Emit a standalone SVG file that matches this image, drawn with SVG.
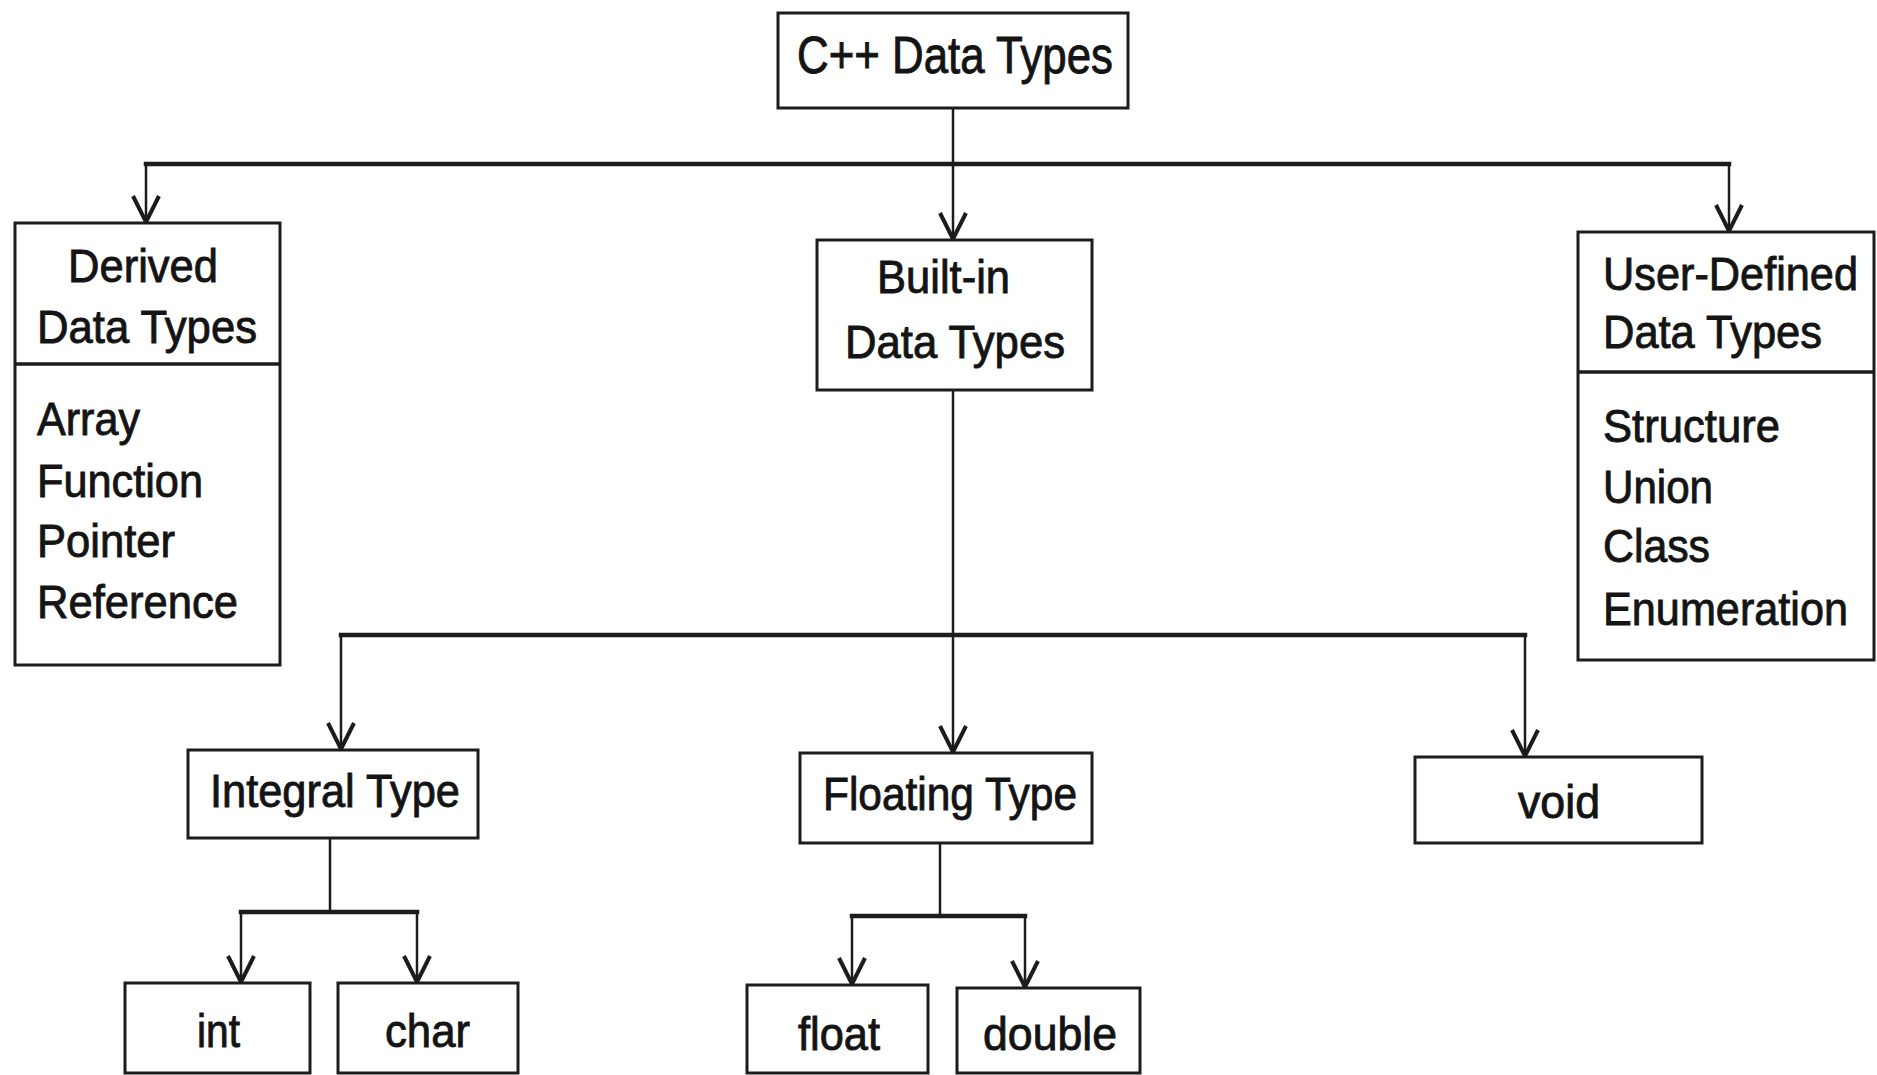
<svg xmlns="http://www.w3.org/2000/svg" width="1877" height="1075" viewBox="0 0 1877 1075">
<defs>
<style>
.box{fill:#fff;stroke:#1c1c1c;stroke-width:3}
.div{stroke:#1c1c1c;stroke-width:3.5}
.t{font-family:"Liberation Sans",Arial,sans-serif;font-size:47px;fill:#141414;stroke:#141414;stroke-width:0.9}
.v{fill:none;stroke:#1c1c1c;stroke-width:2.5}
.h{fill:none;stroke:#1c1c1c;stroke-width:4.5;stroke-linecap:square}
</style>
<marker id="arr" markerUnits="userSpaceOnUse" viewBox="-30 -16 34 32" refX="0" refY="0" markerWidth="34" markerHeight="32" orient="auto" overflow="visible">
<path d="M -26 -13 L 0 0 L -26 13" fill="none" stroke="#1c1c1c" stroke-width="4"/>
</marker>
</defs>
<rect width="1877" height="1075" fill="#fff"/>

<g id="connectors">
<path class="v" d="M 953 108 L 953 164"/>
<path class="h" d="M 146 164 L 1729 164"/>
<path class="v" d="M 146 164 L 146 222" marker-end="url(#arr)"/>
<path class="v" d="M 953 164 L 953 239" marker-end="url(#arr)"/>
<path class="v" d="M 1729 164 L 1729 231" marker-end="url(#arr)"/>
<path class="v" d="M 953 390 L 953 635"/>
<path class="h" d="M 341 635 L 1525 635"/>
<path class="v" d="M 341 635 L 341 749" marker-end="url(#arr)"/>
<path class="v" d="M 953 635 L 953 752" marker-end="url(#arr)"/>
<path class="v" d="M 1525 635 L 1525 756" marker-end="url(#arr)"/>
<path class="v" d="M 330 838 L 330 912"/>
<path class="h" d="M 241 912 L 417 912"/>
<path class="v" d="M 241 912 L 241 982" marker-end="url(#arr)"/>
<path class="v" d="M 417 912 L 417 982" marker-end="url(#arr)"/>
<path class="v" d="M 940 843 L 940 916"/>
<path class="h" d="M 852 916 L 1025 916"/>
<path class="v" d="M 852 916 L 852 984" marker-end="url(#arr)"/>
<path class="v" d="M 1025 916 L 1025 987" marker-end="url(#arr)"/>
</g>

<g id="node-cpp">
<rect class="box" x="778" y="13" width="350" height="95"/>
<text class="t" x="797" y="73" style="font-size:52px" textLength="316" lengthAdjust="spacingAndGlyphs">C++ Data Types</text>
</g>

<g id="node-derived">
<rect class="box" x="15" y="223" width="265" height="442"/>
<line class="div" x1="15" y1="364" x2="280" y2="364"/>
<text class="t" x="68" y="282" textLength="150" lengthAdjust="spacingAndGlyphs">Derived</text>
<text class="t" x="37" y="343" textLength="220" lengthAdjust="spacingAndGlyphs">Data Types</text>
<text class="t" x="37" y="435" textLength="103" lengthAdjust="spacingAndGlyphs">Array</text>
<text class="t" x="37" y="497" textLength="166" lengthAdjust="spacingAndGlyphs">Function</text>
<text class="t" x="37" y="557" textLength="138" lengthAdjust="spacingAndGlyphs">Pointer</text>
<text class="t" x="37" y="618" textLength="201" lengthAdjust="spacingAndGlyphs">Reference</text>
</g>

<g id="node-builtin">
<rect class="box" x="817" y="240" width="275" height="150"/>
<text class="t" x="877" y="293" textLength="133" lengthAdjust="spacingAndGlyphs">Built-in</text>
<text class="t" x="845" y="358" textLength="220" lengthAdjust="spacingAndGlyphs">Data Types</text>
</g>

<g id="node-userdefined">
<rect class="box" x="1578" y="232" width="296" height="428"/>
<line class="div" x1="1578" y1="372" x2="1874" y2="372"/>
<text class="t" x="1603" y="290" textLength="255" lengthAdjust="spacingAndGlyphs">User-Defined</text>
<text class="t" x="1603" y="348" textLength="219" lengthAdjust="spacingAndGlyphs">Data Types</text>
<text class="t" x="1603" y="442" textLength="177" lengthAdjust="spacingAndGlyphs">Structure</text>
<text class="t" x="1603" y="503" textLength="110" lengthAdjust="spacingAndGlyphs">Union</text>
<text class="t" x="1603" y="562" textLength="107" lengthAdjust="spacingAndGlyphs">Class</text>
<text class="t" x="1603" y="625" textLength="245" lengthAdjust="spacingAndGlyphs">Enumeration</text>
</g>

<g id="node-integral">
<rect class="box" x="188" y="750" width="290" height="88"/>
<text class="t" x="210" y="807" textLength="250" lengthAdjust="spacingAndGlyphs">Integral Type</text>
</g>

<g id="node-floating">
<rect class="box" x="800" y="753" width="292" height="90"/>
<text class="t" x="823" y="810" textLength="254" lengthAdjust="spacingAndGlyphs">Floating Type</text>
</g>

<g id="node-void">
<rect class="box" x="1415" y="757" width="287" height="86"/>
<text class="t" x="1518" y="818" textLength="82" lengthAdjust="spacingAndGlyphs">void</text>
</g>

<g id="node-int">
<rect class="box" x="125" y="983" width="185" height="90"/>
<text class="t" x="197" y="1047" textLength="43" lengthAdjust="spacingAndGlyphs">int</text>
</g>

<g id="node-char">
<rect class="box" x="338" y="983" width="180" height="90"/>
<text class="t" x="385" y="1047" textLength="85" lengthAdjust="spacingAndGlyphs">char</text>
</g>

<g id="node-float">
<rect class="box" x="747" y="985" width="181" height="88"/>
<text class="t" x="798" y="1050" textLength="82" lengthAdjust="spacingAndGlyphs">float</text>
</g>

<g id="node-double">
<rect class="box" x="957" y="988" width="183" height="85"/>
<text class="t" x="983" y="1050" textLength="134" lengthAdjust="spacingAndGlyphs">double</text>
</g>
</svg>
